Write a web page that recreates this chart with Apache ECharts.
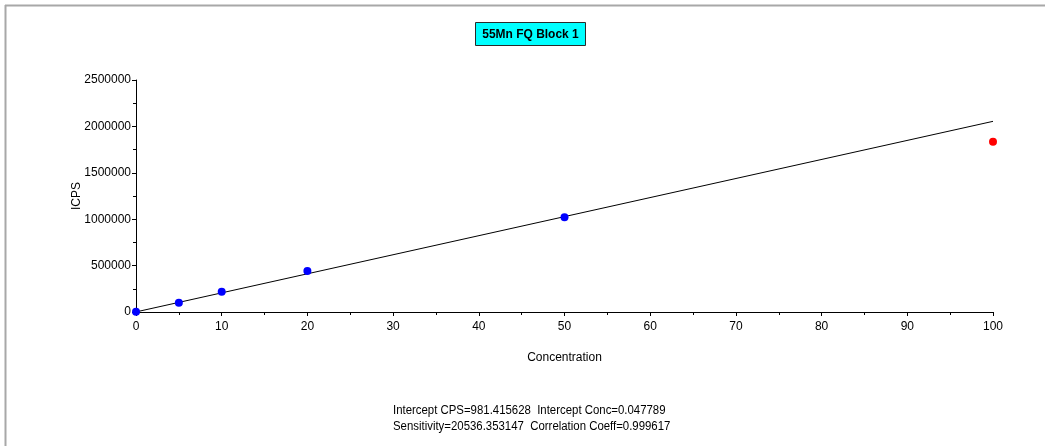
<!DOCTYPE html>
<html>
<head>
<meta charset="utf-8">
<script src="https://cdn.jsdelivr.net/npm/echarts@6/dist/echarts.min.js"></script>
<style>
  html, body { margin: 0; padding: 0; background: #ffffff; }
  #chart { width: 1045px; height: 446px; }
</style>
</head>
<body>
<div id="chart"></div>
<script>
// Calibration standards: concentration vs. measured intensity
const titleText = '55Mn FQ Block 1';
const stdConc = [0, 5, 10, 20, 50];
const stdIcps = [3000, 100000, 218000, 441000, 1020000];
const rejConc = [100];
const rejIcps = [1835000];

// Fit results printed under the plot
const interceptCps = 981.415628;
const interceptConc = 0.047789;
const sensitivity = 20536.353147;
const corrCoeff = 0.999617;
const fitRange = [0, 100];

const font = '"Liberation Sans", Arial, sans-serif';

const fitLine = fitRange.map(x => [x, interceptCps + sensitivity * x]);

const chart = echarts.init(document.getElementById('chart'));
chart.setOption({
  animation: false,
  backgroundColor: '#ffffff',
  grid: { left: 136, right: 52, top: 80, bottom: 134 },
  xAxis: {
    type: 'value', min: 0, max: 100, interval: 10,
    name: 'Concentration', nameLocation: 'middle', nameGap: 40,
    nameTextStyle: { fontFamily: font, fontSize: 12, color: '#000' },
    axisLine: { show: true, lineStyle: { color: '#000', width: 1 } },
    axisTick: { show: true, length: 4, lineStyle: { color: '#000' } },
    minorTick: { show: true, splitNumber: 2, length: 3, lineStyle: { color: '#000' } },
    axisLabel: { fontFamily: font, fontSize: 12, color: '#000', margin: 9 },
    splitLine: { show: false }
  },
  yAxis: {
    type: 'value', min: 0, max: 2500000, interval: 500000,
    name: 'ICPS', nameLocation: 'middle', nameGap: 53, nameRotate: 90,
    nameMoveOverlap: false,
    nameTextStyle: { fontFamily: font, fontSize: 12, color: '#000' },
    axisLine: { show: true, lineStyle: { color: '#000', width: 1 } },
    axisTick: { show: true, length: 4, lineStyle: { color: '#000' } },
    minorTick: { show: true, splitNumber: 2, length: 3, lineStyle: { color: '#000' } },
    axisLabel: { fontFamily: font, fontSize: 12, color: '#000', margin: 5,
                 formatter: v => String(v) },
    splitLine: { show: false }
  },
  series: [
    {
      type: 'line', data: fitLine, symbol: 'none', silent: true,
      lineStyle: { color: '#000', width: 1 }, z: 2
    },
    {
      type: 'scatter', data: stdConc.map((c, i) => [c, stdIcps[i]]),
      symbol: 'circle', symbolSize: 8, itemStyle: { color: '#0000ff', opacity: 1 }, z: 3
    },
    {
      type: 'scatter', data: rejConc.map((c, i) => [c, rejIcps[i]]),
      symbol: 'circle', symbolSize: 8, itemStyle: { color: '#ff0000', opacity: 1 }, z: 3
    }
  ],
  graphic: [
    // window frame edges
    { type: 'line', shape: { x1: 5, y1: 5.5, x2: 1045, y2: 5.5 }, style: { stroke: '#a8a8a8', lineWidth: 2 } },
    { type: 'line', shape: { x1: 5.5, y1: 5, x2: 5.5, y2: 446 }, style: { stroke: '#a8a8a8', lineWidth: 2 } },
    // title box
    {
      type: 'group', left: 475, top: 22,
      children: [
        { type: 'rect', shape: { x: 0, y: 0, width: 110, height: 23 },
          style: { fill: '#00ffff', stroke: '#2a2a2a', lineWidth: 1 } },
        { type: 'text', x: 55, y: 12, scaleX: 0.92,
          style: { text: titleText, fill: '#000', font: 'bold 13px ' + font,
                   textAlign: 'center', textVerticalAlign: 'middle' } }
      ]
    },
    // fit statistics
    {
      type: 'text', x: 393, y: 403, scaleX: 0.95,
      style: {
        text: 'Intercept CPS=' + interceptCps.toFixed(6) + '  Intercept Conc=' + interceptConc.toFixed(6) +
              '\nSensitivity=' + sensitivity.toFixed(6) + '  Correlation Coeff=' + corrCoeff.toFixed(6),
        fill: '#000', font: '12px ' + font, lineHeight: 16, textAlign: 'left'
      }
    }
  ]
});
</script>
</body>
</html>
